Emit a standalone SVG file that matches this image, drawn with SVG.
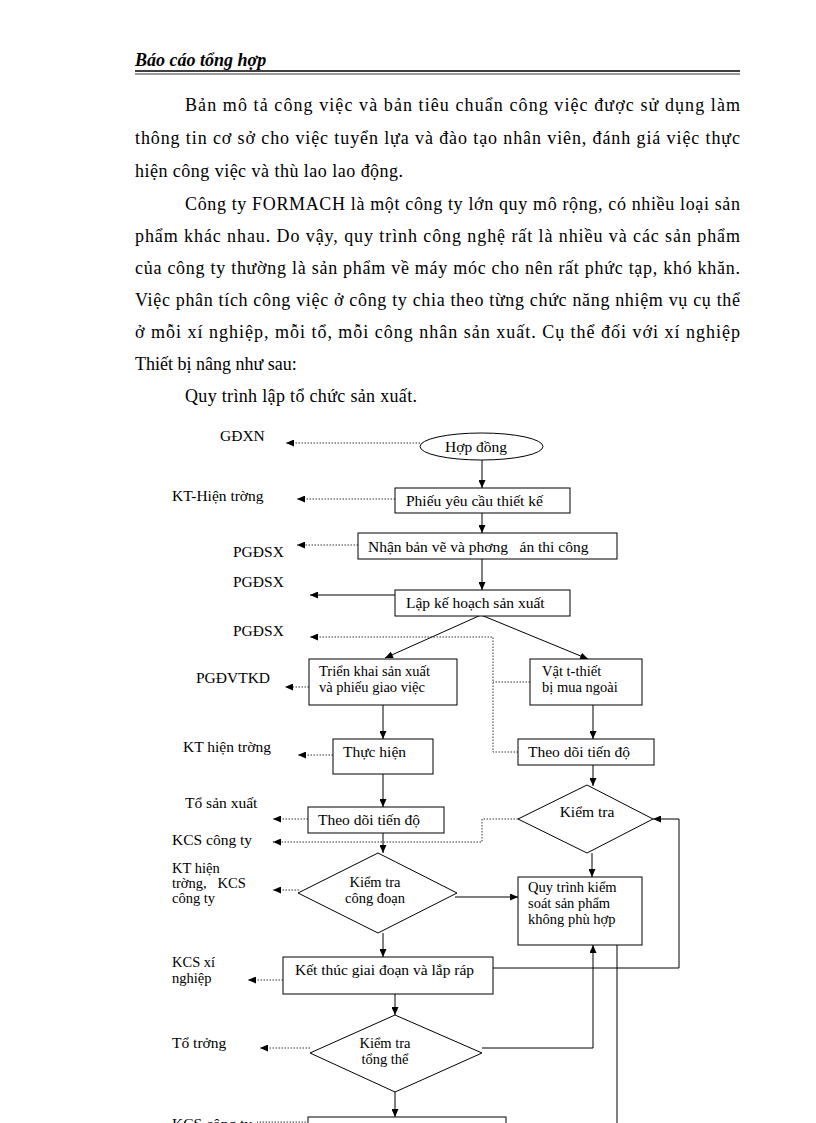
<svg xmlns="http://www.w3.org/2000/svg" width="816" height="1123" viewBox="0 0 816 1123">
<defs>
<marker id="ah" viewBox="0 0 8 7" refX="8" refY="3.5" markerWidth="8" markerHeight="7" markerUnits="userSpaceOnUse" orient="auto">
<path d="M0,0 L8,3.5 L0,7 z" fill="#000"/>
</marker>
<style>
.body{font-family:"Liberation Serif","Times New Roman",serif;font-size:18px;fill:#000}
.hdr{font-family:"Liberation Serif","Times New Roman",serif;font-size:18px;font-weight:bold;font-style:italic;fill:#000}
.lbl{font-family:"Liberation Serif","Times New Roman",serif;font-size:15.5px;fill:#000;white-space:pre}
.ml{font-size:14.5px}
.mid{text-anchor:middle}
.shape{fill:#fff;stroke:#000;stroke-width:1}
.solid{fill:none;stroke:#000;stroke-width:1}
.dot{fill:none;stroke:#333;stroke-width:1;stroke-dasharray:1.5 1.5}
</style>
</defs>
<rect width="816" height="1123" fill="#fff"/>

<g id="header">
<text class="hdr" x="135" y="66">Báo cáo tổng hợp</text>
<line x1="135" y1="71" x2="740" y2="71" stroke="#000" stroke-width="1.6"/>
<line x1="135" y1="74" x2="740" y2="74" stroke="#000" stroke-width="0.8"/>
</g>

<g id="paragraphs">
<text class="body" x="185" y="111" textLength="555" lengthAdjust="spacing">Bản mô tả công việc và bản tiêu chuẩn công việc được sử dụng làm</text>
<text class="body" x="135" y="144" textLength="605" lengthAdjust="spacing">thông tin cơ sở cho việc tuyển lựa và đào tạo nhân viên, đánh giá việc thực</text>
<text class="body" x="135" y="177" textLength="268" lengthAdjust="spacing">hiện công việc và thù lao lao động.</text>
<text class="body" x="185" y="210" textLength="555" lengthAdjust="spacing">Công ty FORMACH là một công ty lớn quy mô rộng, có nhiều loại sản</text>
<text class="body" x="135" y="242" textLength="605" lengthAdjust="spacing">phẩm khác nhau. Do vậy, quy trình công nghệ rất là nhiều và các sản phẩm</text>
<text class="body" x="135" y="274" textLength="605" lengthAdjust="spacing">của công ty thường là sản phẩm về máy móc cho nên rất phức tạp, khó khăn.</text>
<text class="body" x="135" y="306" textLength="605" lengthAdjust="spacing">Việc phân tích công việc ở công ty chia theo từng chức năng nhiệm vụ cụ thể</text>
<text class="body" x="135" y="338" textLength="605" lengthAdjust="spacing">ở mỗi xí nghiệp, mỗi tổ, mỗi công nhân sản xuất. Cụ thể đối với xí nghiệp</text>
<text class="body" x="135" y="370">Thiết bị nâng như sau:</text>
<text class="body" x="185" y="402" textLength="232" lengthAdjust="spacing">Quy trình lập tổ chức sản xuất.</text>
</g>

<g id="side-labels">
<text class="lbl" x="220" y="441">GĐXN</text>
<text class="lbl" x="172" y="501">KT-Hiện trờng</text>
<text class="lbl" x="233" y="557">PGĐSX</text>
<text class="lbl" x="233" y="587">PGĐSX</text>
<text class="lbl" x="233" y="636">PGĐSX</text>
<text class="lbl" x="196" y="683">PGĐVTKD</text>
<text class="lbl" x="183" y="752">KT hiện trờng</text>
<text class="lbl" x="185" y="808">Tổ sản xuất</text>
<text class="lbl" x="172" y="845">KCS công ty</text>
<text class="lbl ml" x="172" y="873">KT hiện</text>
<text class="lbl ml" x="172" y="888">trờng,   KCS</text>
<text class="lbl ml" x="172" y="903">công ty</text>
<text class="lbl ml" x="172" y="967">KCS xí</text>
<text class="lbl ml" x="172" y="983">nghiệp</text>
<text class="lbl" x="172" y="1048">Tổ trởng</text>
<text class="lbl" x="172" y="1129">KCS công ty</text>
</g>

<g id="connectors">
<path class="solid" d="M482,460 V488" marker-end="url(#ah)"/>
<path class="solid" d="M482,513 V533" marker-end="url(#ah)"/>
<path class="solid" d="M482,559 V590" marker-end="url(#ah)"/>
<path class="solid" d="M395,595 H310" marker-end="url(#ah)"/>
<path class="solid" d="M481,615 L385,658" marker-end="url(#ah)"/>
<path class="solid" d="M481,615 L588,659" marker-end="url(#ah)"/>
<path class="solid" d="M383,705 V739" marker-end="url(#ah)"/>
<path class="solid" d="M593,705 V739" marker-end="url(#ah)"/>
<path class="solid" d="M383,774 V807" marker-end="url(#ah)"/>
<path class="solid" d="M593,765 V786" marker-end="url(#ah)"/>
<path class="solid" d="M383,833 V853" marker-end="url(#ah)"/>
<path class="solid" d="M592,853 V877" marker-end="url(#ah)"/>
<path class="solid" d="M455,897 H518" marker-end="url(#ah)"/>
<path class="solid" d="M383,933 V957" marker-end="url(#ah)"/>
<path class="solid" d="M493,968 H679 V819 H653" marker-end="url(#ah)"/>
<path class="solid" d="M395,994 V1015" marker-end="url(#ah)"/>
<path class="solid" d="M482,1048 H593 V945" marker-end="url(#ah)"/>
<path class="solid" d="M395,1092 V1117" marker-end="url(#ah)"/>
<path class="solid" d="M617,945 V1123"/>

<path class="dot" d="M420,443 H286" marker-end="url(#ah)"/>
<path class="dot" d="M395,499 H297" marker-end="url(#ah)"/>
<path class="dot" d="M358,545 H297" marker-end="url(#ah)"/>
<path class="dot" d="M530,682 H493"/>
<path class="dot" d="M518,752 H493 V637 H310" marker-end="url(#ah)"/>
<path class="dot" d="M309,687 H285" marker-end="url(#ah)"/>
<path class="dot" d="M333,755 H298" marker-end="url(#ah)"/>
<path class="dot" d="M308,819 H273" marker-end="url(#ah)"/>
<path class="dot" d="M518,819 H482 V842 H273" marker-end="url(#ah)"/>
<path class="dot" d="M299,890 H273" marker-end="url(#ah)"/>
<path class="dot" d="M283,980 H248" marker-end="url(#ah)"/>
<path class="dot" d="M310,1048 H260" marker-end="url(#ah)"/>
<path class="dot" d="M306,1122 H257"/>
</g>

<g id="n-hopdong">
<ellipse class="shape" cx="481.5" cy="446.5" rx="61.5" ry="13.5"/>
<text class="lbl" x="445" y="452">Hợp đồng</text>
</g>
<g id="n-phieu">
<rect class="shape" x="395" y="488" width="175" height="25"/>
<text class="lbl" x="406" y="506">Phiếu yêu cầu thiết kế</text>
</g>
<g id="n-nhan">
<rect class="shape" x="358" y="533" width="259" height="26"/>
<text class="lbl" x="368" y="552">Nhận bản vẽ và phơng   án thi công</text>
</g>
<g id="n-lap">
<rect class="shape" x="395" y="590" width="175" height="26"/>
<text class="lbl" x="406" y="608">Lập kế hoạch sản xuất</text>
</g>
<g id="n-trienkhai">
<rect class="shape" x="309" y="659" width="148" height="46"/>
<text class="lbl ml" x="319" y="676">Triển khai sản xuất</text>
<text class="lbl ml" x="319" y="692">và phiếu giao việc</text>
</g>
<g id="n-vattu">
<rect class="shape" x="530" y="659" width="112" height="46"/>
<text class="lbl ml" x="542" y="676">Vật t-thiết</text>
<text class="lbl ml" x="542" y="692">bị mua ngoài</text>
</g>
<g id="n-thuchien">
<rect class="shape" x="333" y="739" width="100" height="35"/>
<text class="lbl" x="343" y="757">Thực hiện</text>
</g>
<g id="n-theodoi-r">
<rect class="shape" x="518" y="739" width="136" height="26"/>
<text class="lbl" x="528" y="757">Theo dõi tiến độ</text>
</g>
<g id="n-theodoi-l">
<rect class="shape" x="308" y="807" width="136" height="26"/>
<text class="lbl" x="318" y="825">Theo dõi tiến độ</text>
</g>
<g id="n-kiemtra">
<polygon class="shape" points="587,785 653,819 587,853 518,819"/>
<text class="lbl mid" x="587" y="817">Kiểm tra</text>
</g>
<g id="n-kiemtra-cd">
<polygon class="shape" points="378,853 457,893 378,933 298,893"/>
<text class="lbl ml mid" x="375" y="887">Kiểm tra</text>
<text class="lbl ml mid" x="375" y="903">công đoạn</text>
</g>
<g id="n-quytrinh">
<rect class="shape" x="518" y="877" width="124" height="68"/>
<text class="lbl ml" x="528" y="892">Quy trình kiểm</text>
<text class="lbl ml" x="528" y="908">soát sản phẩm</text>
<text class="lbl ml" x="528" y="924">không phù hợp</text>
</g>
<g id="n-ketthuc">
<rect class="shape" x="283" y="957" width="210" height="37"/>
<text class="lbl" x="295" y="975">Kết thúc giai đoạn và lắp ráp</text>
</g>
<g id="n-kiemtra-tt">
<polygon class="shape" points="395,1015 482,1053 395,1092 310,1053"/>
<text class="lbl ml mid" x="385" y="1048">Kiểm tra</text>
<text class="lbl ml mid" x="385" y="1064">tổng thể</text>
</g>
<g id="n-bottom">
<rect class="shape" x="308" y="1117" width="198" height="20"/>
</g>
</svg>
